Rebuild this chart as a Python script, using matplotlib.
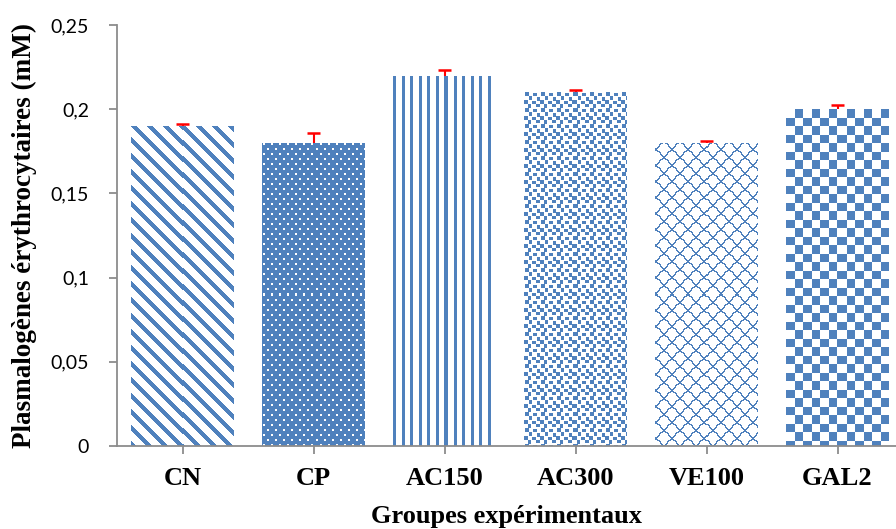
import numpy as np
import matplotlib
matplotlib.use("Agg")
import matplotlib.pyplot as plt

# data
groups = ["CN", "CP", "AC150", "AC300", "VE100", "GAL2"]
values = [0.19, 0.18, 0.22, 0.21, 0.18, 0.20]
errors = [0.001, 0.006, 0.003, 0.0015, 0.0014, 0.0024]
yticks = [0, 0.05, 0.10, 0.15, 0.20, 0.25]
ytick_labels = ["0", "0,05", "0,1", "0,15", "0,2", "0,25"]

BLUE = np.array([0x4F, 0x81, 0xBD]) / 255.0
GRAY = "#8C8C8C"
DPI = 100
W, H = 896, 529
BAR_W = 0.78


def _tile(kind):
    """Small pattern tiles (1 = blue, fractions = lighter blue) mimicking Excel fills."""
    if kind == "diag":
        r, c = np.mgrid[0:16, 0:16]
        return ((c - r) % 16 < 6).astype(float)
    if kind == "dots":
        t = np.ones((10, 8))
        t[1:3, 1:3] = 0
        t[6:8, 5:7] = 0
        return t
    if kind == "vlines":
        t = np.zeros((4, 17))
        t[:, 0:3] = 1
        t[:, 9:12] = 1
        return t
    if kind == "squares":
        t = np.zeros((16, 16))
        for (r, c, h, w) in [(0, 1, 4, 4), (1, 9, 3, 4), (4, 5, 4, 3), (5, 13, 4, 3),
                             (8, 0, 4, 4), (9, 8, 3, 4), (12, 4, 4, 3), (12, 12, 3, 4)]:
            t[r:r + h, c:c + w] = 1
        return t
    if kind == "scales":
        t = np.zeros((16, 16))
        for base_r, off in [(8, 0), (16, 8)]:
            prev = None
            for c in range(17):
                r = int(round(base_r - 8 * np.sin(np.pi * c / 16)))
                cc = (c + off) % 16
                if prev is None:
                    rng = [r]
                else:
                    rng = range(min(r, prev), max(r, prev) + 1)
                for rr in rng:
                    t[rr % 16, cc] = 1
                prev = r
        return t
    if kind == "checker":
        r, c = np.mgrid[0:17, 0:17]
        return ((r < 9) ^ (c < 9)).astype(float)
    return np.ones((4, 4))


patterns = ["diag", "dots", "vlines", "squares", "scales", "checker"]

fig = plt.figure(figsize=(W / DPI, H / DPI), dpi=DPI)
left_px, right_px, top_px, bot_px = 117, 896, 25, 446
ax = fig.add_axes([left_px / W, (H - bot_px) / H,
                   (right_px - left_px) / W, (bot_px - top_px) / H])

xlim = (-0.5, -0.5 + (right_px - left_px) / 131.0)
ylim = (0, 0.25)
px_per_x = (right_px - left_px) / (xlim[1] - xlim[0])
px_per_y = (bot_px - top_px) / (ylim[1] - ylim[0])

x = np.arange(len(groups))
bars = ax.bar(x, values, width=BAR_W, color="none", edgecolor="none", zorder=2)

for b, kind in zip(bars, patterns):
    x0, w, h = b.get_x(), b.get_width(), b.get_height()
    npx_w = int(round(w * px_per_x))
    npx_h = int(round(h * px_per_y))
    t = _tile(kind)
    reps = (npx_h // t.shape[0] + 2, npx_w // t.shape[1] + 2)
    mask = np.tile(t, reps)[:npx_h, :npx_w]
    img = 1 - mask[..., None] * (1 - BLUE)
    im = ax.imshow(img, extent=(x0, x0 + w, 0, h), origin="upper",
                   interpolation="nearest", aspect="auto", zorder=2)
    im.set_clip_path(b)

# upper-only red error bars
tops = np.array(values) + np.array(errors)
ax.vlines(x, values, tops, color="#FF0000", linewidth=1.5, zorder=3)
ax.hlines(tops, x - 0.05, x + 0.05, color="#FF0000", linewidth=1.8, zorder=3)

ax.set_xlim(*xlim)
ax.set_ylim(*ylim)

for s in ["top", "right"]:
    ax.spines[s].set_visible(False)
for s in ["left", "bottom"]:
    ax.spines[s].set_color(GRAY)
    ax.spines[s].set_linewidth(1.3)

ax.set_yticks(yticks)
ax.set_yticklabels(ytick_labels, fontfamily="Lato", fontsize=14)
ax.set_xticks(x)
ax.set_xticklabels(groups, fontfamily="Liberation Serif", fontweight="bold", fontsize=19)
ax.tick_params(axis="y", direction="out", length=6, width=1.3, color=GRAY, pad=14)
ax.tick_params(axis="x", direction="out", length=6, width=1.3, color=GRAY, pad=9)

ax.set_xlabel("Groupes expérimentaux", fontfamily="Liberation Serif",
              fontweight="bold", fontsize=19, labelpad=11)
ax.set_ylabel("Plasmalogènes érythrocytaires (mM)", fontfamily="Liberation Serif",
              fontweight="bold", fontsize=19.5, labelpad=10)

fig.savefig("out.png", dpi=DPI)
